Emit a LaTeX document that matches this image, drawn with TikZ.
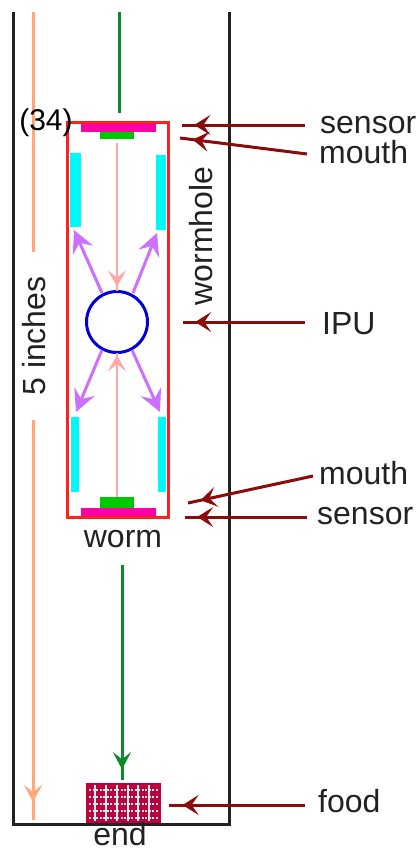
\documentclass[tikz,border=0pt]{standalone}
\usepackage{fontspec}
\setmainfont{Liberation Sans}
\usetikzlibrary{arrows.meta,decorations.markings}
\definecolor{framec}{HTML}{222222}
\definecolor{redbox}{HTML}{FF2020}
\definecolor{darkred}{HTML}{8B0A0A}
\definecolor{greenl}{HTML}{0C8A2A}
\definecolor{orangel}{HTML}{FFA878}
\definecolor{pinkl}{HTML}{FFA6A6}
\definecolor{purplel}{HTML}{CC70FF}
\definecolor{magentab}{HTML}{FF00A8}
\definecolor{greenb}{HTML}{00C800}
\definecolor{cyanb}{HTML}{00F8F8}
\definecolor{foodc}{HTML}{C0003C}
\definecolor{foodl}{HTML}{C0F0F0}
\tikzset{
  x=1pt,y=-1pt,
  lab/.style={font=\fontsize{32}{32}\selectfont,text=framec,inner sep=0pt},
  tipmark/.style n args={3}{postaction={decorate},decoration={markings,
     mark=at position #1 with {\arrow{Stealth[length=#2pt,width=#3pt,inset=7pt]}}}},
  darrow/.style={draw=darkred,line width=3pt,tipmark={0.9}{16}{20}},
  plain/.style={line width=3pt},
  purplearrow/.style={draw=purplel,line width=3pt,-{Stealth[length=22pt,width=22pt,inset=8pt]}},
}
\newcommand{\blockat}[6]{\fill[#6] (#2,#3) rectangle (#4,#5) coordinate[pos=.5] (#1);}
\begin{document}
\begin{tikzpicture}
\useasboundingbox (0,0) rectangle (419,849);
\fill[white] (0,0) rectangle (419,849);
% frame
\draw[framec,line width=3pt,line join=miter] (13,12) -- (13,824) -- (229,824) -- (229,12);
% side arrows
\coordinate (oa) at (33,12); \coordinate (ob) at (33,252);
\coordinate (oc) at (33,420); \coordinate (od) at (33,820);
\draw[orangel,line width=3pt] (oa) -- (ob);
\draw[orangel,line width=3pt,tipmark={0.955}{17}{18}] (oc) -- (od);
% worm body
\blockat{mt}{81}{123}{156}{132}{magentab}
\blockat{gt}{100}{132}{134}{139}{greenb}
\blockat{cl1}{70}{153}{81}{227}{cyanb}
\blockat{cr1}{156}{155}{166}{230}{cyanb}
\blockat{cl2}{70.5}{417}{78.5}{492}{cyanb}
\blockat{cr2}{158}{417}{166}{492}{cyanb}
\blockat{gb}{100}{497}{134}{508}{greenb}
\blockat{mb}{81}{508}{156}{517}{magentab}
\node[draw=redbox,line width=3pt,minimum width=101pt,minimum height=395pt,inner sep=0pt] (wormbox) at (117.5,319.5) {};
\node[circle,draw=blue!85!black,line width=3pt,minimum size=61pt,inner sep=0pt] (ipu) at (117,322) {};
% pink
\coordinate (pt1) at (117,143); \coordinate (pt2) at (117,291);
\coordinate (pb1) at (117,497); \coordinate (pb2) at (117,353);
\draw[pinkl,line width=2.6pt,tipmark={0.97}{16}{18}] (pt1) -- (pt2);
\draw[pinkl,line width=2.6pt,tipmark={0.985}{16}{18}] (pb1) -- (pb2);
% purple
\coordinate (u1) at (102,293); \coordinate (u1e) at (74,230);
\coordinate (u2) at (133,293); \coordinate (u2e) at (157,233);
\coordinate (d1) at (102,350); \coordinate (d1e) at (76,412);
\coordinate (d2) at (132,350); \coordinate (d2e) at (160,412);
\draw[purplearrow] (u1) -- (u1e);
\draw[purplearrow] (u2) -- (u2e);
\draw[purplearrow] (d1) -- (d1e);
\draw[purplearrow] (d2) -- (d2e);
% green
\coordinate (g1) at (119,12); \coordinate (g2) at (119,113);
\coordinate (g3) at (122,565); \coordinate (g4) at (122,780);
\draw[greenl,plain] (g1) -- (g2);
\draw[greenl,plain,tipmark={0.95}{17}{18}] (g3) -- (g4);
% food
\node[fill=foodc,draw=none,minimum width=75pt,minimum height=40pt,inner sep=0pt] (foodbox) at (123.5,803) {};
\foreach \px in {95,106,117,128,138,149}
  \draw[foodl,line width=2pt] (\px,785) -- (\px,821);
\foreach \py in {790,797,804,811,818}
  \draw[foodl,line width=2pt,dash pattern=on 2pt off 1.5pt] (89,\py) -- (158,\py);
% labels
\node[lab] (n34) at (46,123) {\fontsize{30}{30}\selectfont\color{black}(34)};
\node[lab,anchor=west] (s1) at (320,125) {sensor};
\node[lab,anchor=west] (m1) at (319,152) {mouth};
\node[lab,anchor=west] (ipul) at (322,324) {IPU};
\node[lab,anchor=west] (m2) at (319,473) {mouth};
\node[lab,anchor=west] (s2) at (317,516) {sensor};
\node[lab,anchor=west] (fl) at (318,801) {food};
\node[lab] (wl) at (123,539) {worm};
\node[lab,anchor=base] (el) at (120,845) {end};
\node[lab,rotate=90] (five) at (34,336) {5 inches};
\node[lab,rotate=90] (wh) at (201,236) {wormhole};
% pointers
\coordinate (a1) at (182,125); \coordinate (a1s) at (305,125);
\coordinate (a2) at (180,138); \coordinate (a2s) at (307,154);
\coordinate (a3) at (183,322); \coordinate (a3s) at (305,322);
\coordinate (a4) at (188,503); \coordinate (a4s) at (313,476);
\coordinate (a5) at (185,517); \coordinate (a5s) at (307,517);
\coordinate (a6) at (169,805); \coordinate (a6s) at (305,805);
\draw[darrow] (a1s) -- (a1);
\draw[darrow] (a2s) -- (a2);
\draw[darrow] (a3s) -- (a3);
\draw[darrow] (a4s) -- (a4);
\draw[darrow] (a5s) -- (a5);
\draw[darrow] (a6s) -- (a6);
\end{tikzpicture}
\end{document}
